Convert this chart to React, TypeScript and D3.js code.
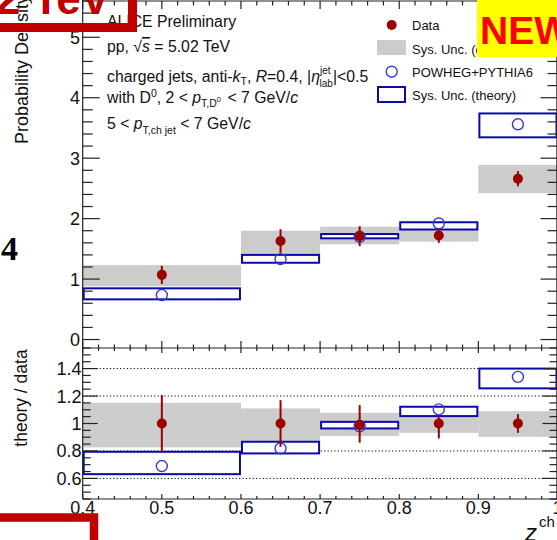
import React from "react";
import * as d3 from "d3";

// ---- data ----
const binEdges = [0.4, 0.6, 0.7, 0.8, 0.9, 1.0];
const binCenters = [0.5, 0.65, 0.75, 0.85, 0.95];

const dataVal = [1.07, 1.63, 1.71, 1.72, 2.66];
const dataStatErr = [0.15, 0.195, 0.165, 0.12, 0.125];
const dataSysLow = [0.88, 1.415, 1.575, 1.62, 2.42];
const dataSysHigh = [1.23, 1.8, 1.866, 1.94, 2.89];

const theoryVal = [0.736, 1.33, 1.7, 1.92, 3.56];
const theorySysLow = [0.665, 1.27, 1.674, 1.82, 3.345];
const theorySysHigh = [0.847, 1.4, 1.745, 1.94, 3.74];

const ratioData = [1.0, 1.0, 0.99, 1.0, 1.0];
const ratioDataErrLow = [0.794, 0.83, 0.86, 0.891, 0.932];
const ratioDataErrHigh = [1.207, 1.17, 1.134, 1.061, 1.068];
const ratioSysLow = [0.826, 0.87, 0.908, 0.932, 0.903];
const ratioSysHigh = [1.151, 1.11, 1.078, 1.093, 1.09];
const ratioTheory = [0.69, 0.818, 0.98, 1.103, 1.34];
const ratioTheoryLow = [0.631, 0.782, 0.964, 1.054, 1.256];
const ratioTheoryHigh = [0.794, 0.867, 1.012, 1.122, 1.4];

const topYTicks = [0, 1, 2, 3, 4, 5];
const ratioYTicks = [0.6, 0.8, 1, 1.2, 1.4];
const ratioGrid = [0.6, 0.8, 1.2, 1.4];
const xTicks = [0.4, 0.5, 0.6, 0.7, 0.8, 0.9, 1.0];
const xTickLabels = ["0.4", "0.5", "0.6", "0.7", "0.8", "0.9", "1"];

const legendLabels = ["Data", "Sys. Unc. (data)", "POWHEG+PYTHIA6", "Sys. Unc. (theory)"];

// ---- layout ----
const X0 = 82.7, X1 = 557.5;
const TOP0 = 1, MID = 348, BOT = 499;
const FONT = "'Liberation Sans', Arial, Helvetica, sans-serif";
const DATA_COL = "#9a0000";
const GRAY = "#cccccc";
const BOX_BLUE = "#0a0aa8";
const CIRC_BLUE = "#3a3ad0";
const AX = "#222";
const RED = "#c00000";

export default function App() {
  const x = d3.scaleLinear().domain([0.4, 1.0]).range([X0, X1]);
  const yT = d3.scaleLinear().domain([-0.14, 5.6]).range([MID, TOP0]);
  const yR = d3.scaleLinear().domain([0.45, 1.55]).range([BOT, MID]);

  const minorX = d3.range(0.4, 1.0001, 0.02).map((v) => +v.toFixed(3));
  const minorYT = d3.range(0, 5.61, 0.2).map((v) => +v.toFixed(3));
  const minorYR = d3.range(0.45, 1.551, 0.05).map((v) => +v.toFixed(3));
  const isMajorX = (v: number) => Math.abs(v * 10 - Math.round(v * 10)) < 1e-6;

  const bins = binCenters.map((c, i) => ({ c, lo: binEdges[i], hi: binEdges[i + 1], i }));

  return (
    <svg
      width={557}
      height={540}
      style={{ position: "absolute", left: 0, top: 0, background: "#fff" }}
      fontFamily={FONT}
    >
      <rect x={0} y={0} width={557} height={540} fill="#fff" />

      {/* ===== top panel ===== */}
      {bins.map((b) => (
        <rect
          key={"gs" + b.i}
          x={x(b.lo)}
          width={x(b.hi) - x(b.lo)}
          y={yT(dataSysHigh[b.i])}
          height={yT(dataSysLow[b.i]) - yT(dataSysHigh[b.i])}
          fill={GRAY}
        />
      ))}
      {bins.map((b) => (
        <rect
          key={"bs" + b.i}
          x={x(b.lo) + 1}
          width={x(b.hi) - x(b.lo) - 2}
          y={yT(theorySysHigh[b.i])}
          height={yT(theorySysLow[b.i]) - yT(theorySysHigh[b.i])}
          fill="#fff"
          stroke={BOX_BLUE}
          strokeWidth={2}
        />
      ))}
      {bins.map((b) => (
        <circle key={"tc" + b.i} cx={x(b.c)} cy={yT(theoryVal[b.i])} r={5.5} fill="none" stroke={CIRC_BLUE} strokeWidth={1.4} />
      ))}
      {bins.map((b) => (
        <g key={"dp" + b.i}>
          <line
            x1={x(b.c)}
            x2={x(b.c)}
            y1={yT(dataVal[b.i] - dataStatErr[b.i])}
            y2={yT(dataVal[b.i] + dataStatErr[b.i])}
            stroke={DATA_COL}
            strokeWidth={2}
          />
          <circle cx={x(b.c)} cy={yT(dataVal[b.i])} r={5} fill={DATA_COL} />
        </g>
      ))}

      {/* ===== ratio panel ===== */}
      {ratioGrid.map((v) => (
        <line key={"g" + v} x1={X0} x2={X1} y1={yR(v)} y2={yR(v)} stroke="#000" strokeWidth={1} strokeDasharray="1.2,2.2" />
      ))}
      {bins.map((b) => (
        <rect
          key={"rgs" + b.i}
          x={x(b.lo)}
          width={x(b.hi) - x(b.lo)}
          y={yR(ratioSysHigh[b.i])}
          height={yR(ratioSysLow[b.i]) - yR(ratioSysHigh[b.i])}
          fill={GRAY}
        />
      ))}
      {bins.map((b) => (
        <rect
          key={"rbs" + b.i}
          x={x(b.lo) + 1}
          width={x(b.hi) - x(b.lo) - 2}
          y={yR(ratioTheoryHigh[b.i])}
          height={yR(ratioTheoryLow[b.i]) - yR(ratioTheoryHigh[b.i])}
          fill="#fff"
          stroke={BOX_BLUE}
          strokeWidth={2}
        />
      ))}
      {bins.map((b) => (
        <circle key={"rtc" + b.i} cx={x(b.c)} cy={yR(ratioTheory[b.i])} r={5.5} fill="none" stroke={CIRC_BLUE} strokeWidth={1.4} />
      ))}
      {bins.map((b) => (
        <g key={"rdp" + b.i}>
          <line
            x1={x(b.c)}
            x2={x(b.c)}
            y1={yR(ratioDataErrLow[b.i])}
            y2={yR(ratioDataErrHigh[b.i])}
            stroke={DATA_COL}
            strokeWidth={2}
          />
          <circle cx={x(b.c)} cy={yR(ratioData[b.i])} r={5} fill={DATA_COL} />
        </g>
      ))}

      {/* ===== frames & ticks ===== */}
      <g stroke={AX} strokeWidth={1.2} fill="none">
        <line x1={X0} x2={X0} y1={-2} y2={BOT} />
        <line x1={X1 - 0.6} x2={X1 - 0.6} y1={-2} y2={BOT} />
        <line x1={X0} x2={X1} y1={TOP0} y2={TOP0} />
        <line x1={X0} x2={X1} y1={MID} y2={MID} />
        <line x1={X0} x2={X1} y1={BOT} y2={BOT} />
        {minorX.map((v) => {
          const maj = isMajorX(v);
          return (
            <g key={"xt" + v}>
              <line x1={x(v)} x2={x(v)} y1={MID} y2={MID - (maj ? 7 : 3.5)} />
              <line x1={x(v)} x2={x(v)} y1={MID} y2={MID + (maj ? 5 : 3)} />
              <line x1={x(v)} x2={x(v)} y1={TOP0} y2={TOP0 + (maj ? 8 : 4.5)} />
              <line x1={x(v)} x2={x(v)} y1={BOT} y2={BOT - (maj ? 5 : 3)} />
            </g>
          );
        })}
        {minorYT.map((v) => {
          const maj = Math.abs(v - Math.round(v)) < 1e-6;
          const L = maj ? 17 : 10;
          return (
            <g key={"yt" + v}>
              <line x1={X0} x2={X0 + L} y1={yT(v)} y2={yT(v)} />
              <line x1={X1} x2={X1 - L} y1={yT(v)} y2={yT(v)} />
            </g>
          );
        })}
        {minorYR.map((v) => {
          const maj = Math.abs(v * 5 - Math.round(v * 5)) < 1e-6;
          const L = maj ? 15 : 8;
          return (
            <g key={"yr" + v}>
              <line x1={X0} x2={X0 + L} y1={yR(v)} y2={yR(v)} />
              <line x1={X1} x2={X1 - L} y1={yR(v)} y2={yR(v)} />
            </g>
          );
        })}
      </g>

      {/* tick labels */}
      <g fontSize={18} fill="#111">
        {topYTicks.map((v) => (
          <text key={"lt" + v} x={80} y={yT(v) + 6.5} textAnchor="end">
            {v}
          </text>
        ))}
        {ratioYTicks.map((v) => (
          <text key={"lr" + v} x={81.5} y={yR(v) + 6.5} textAnchor="end">
            {v === 1 ? "1" : v.toFixed(1)}
          </text>
        ))}
        {xTicks.map((v, i) => (
          <text key={"lx" + v} x={x(v)} y={514} textAnchor="middle">
            {xTickLabels[i]}
          </text>
        ))}
      </g>

      {/* axis titles */}
      <text transform="translate(27.5,144) rotate(-90)" fontSize={18} fill="#111" textAnchor="start">
        Probability Density
      </text>
      <text transform="translate(27,398) rotate(-90)" fontSize={17.5} fill="#111" textAnchor="middle">
        theory / data
      </text>
      <text x={525} y={541} fontSize={24} fontStyle="italic" fill="#111">
        z
      </text>
      <text x={539} y={527} fontSize={15} fill="#111">
        ch
      </text>
      <text x={541} y={549} fontSize={13} fill="#111">
        ||
      </text>

      {/* annotation block */}
      <g fontSize={15.8} fill="#111">
        <text x={107} y={26.5}>ALICE Preliminary</text>
        <text x={107} y={52}>
          pp, √<tspan fontStyle="italic" textDecoration="overline">s</tspan> = 5.02 TeV
        </text>
        <text x={107} y={81.5}>
          charged jets, anti-<tspan fontStyle="italic">k</tspan>
          <tspan fontSize={10.5} dy={3}>T</tspan>
          <tspan dy={-3}>, </tspan>
          <tspan fontStyle="italic">R</tspan>=0.4, |<tspan fontStyle="italic">η</tspan>
          <tspan fontSize={10} dy={-8}>jet</tspan>
          <tspan fontSize={10} dx={-11} dy={13}>lab</tspan>
          <tspan dy={-5}>|&lt;0.5</tspan>
        </text>
        <text x={107} y={103}>
          with D<tspan fontSize={10.5} dy={-6}>0</tspan>
          <tspan dy={6}>, 2 &lt; </tspan>
          <tspan fontStyle="italic">p</tspan>
          <tspan fontSize={10.5} dy={4}>T,D</tspan>
          <tspan fontSize={7.5} dy={-5}>0</tspan>
          <tspan dy={1} dx={2}> &lt; 7 GeV/</tspan>
          <tspan fontStyle="italic">c</tspan>
        </text>
        <text x={107} y={129}>
          5 &lt; <tspan fontStyle="italic">p</tspan>
          <tspan fontSize={10.5} dy={5}>T,ch jet</tspan>
          <tspan dy={-5}> &lt; 7 GeV/</tspan>
          <tspan fontStyle="italic">c</tspan>
        </text>
      </g>

      {/* legend */}
      <g fontSize={13} fill="#111">
        <circle cx={391.7} cy={25} r={5} fill={DATA_COL} />
        <text x={412} y={30}>{legendLabels[0]}</text>
        <rect x={377} y={40} width={29} height={15} fill={GRAY} />
        <text x={412} y={54}>{legendLabels[1]}</text>
        <circle cx={391.7} cy={71.7} r={5.5} fill="none" stroke={CIRC_BLUE} strokeWidth={1.4} />
        <text x={412} y={77}>{legendLabels[2]}</text>
        <rect x={378} y={87} width={27} height={15} fill="#fff" stroke={BOX_BLUE} strokeWidth={2} />
        <text x={412} y={100}>{legendLabels[3]}</text>
      </g>

      {/* slide overlays */}
      <rect x={477} y={0} width={82} height={57} fill="#ffff00" />
      <text x={480} y={44} fontSize={39} fontWeight="bold" fill="#ff0000">
        NEW
      </text>
      <text x={110} y={14} fontSize={44} fontWeight="bold" fill={RED} textAnchor="end">
        5.02 TeV
      </text>
      <rect x={-20} y={-20} width={152.5} height={47.5} fill="none" stroke={RED} strokeWidth={9} />
      <text x={1} y={260} fontSize={34} fontWeight="bold" fontFamily="'Liberation Serif', 'DejaVu Serif', serif" fill="#000">
        4
      </text>
      <rect x={-20} y={517.5} width={114} height={60} fill="none" stroke={RED} strokeWidth={8.5} />
    </svg>
  );
}
